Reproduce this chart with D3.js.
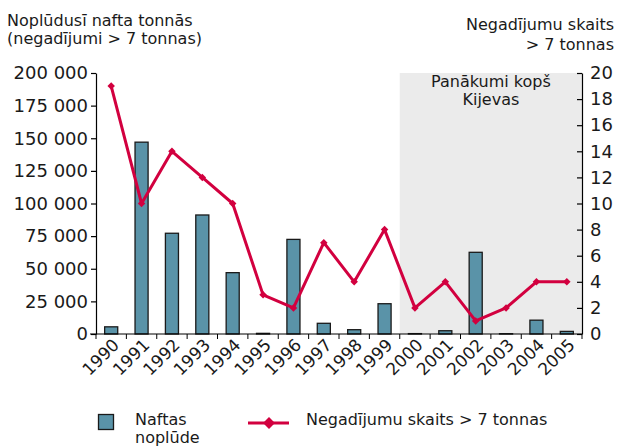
<!DOCTYPE html>
<html>
<head>
<meta charset="utf-8">
<script src="https://cdn.jsdelivr.net/npm/d3@7"></script>
<style>
  body { margin: 0; background: #fff; }
  text { font-family: "DejaVu Sans", Verdana, sans-serif; fill: #1a1a1a; }
</style>
</head>
<body>
<svg width="618" height="446"></svg>
<script>
//chart data
var years = ["1990","1991","1992","1993","1994","1995","1996","1997","1998","1999","2000","2001","2002","2003","2004","2005"];
var spill_tonnes = [5500, 147000, 77200, 91200, 47000, 500, 72500, 8200, 3300, 23200, 300, 2500, 62600, 200, 10600, 2000];
var incidents = [19, 10, 14, 12, 10, 3, 2, 7, 4, 8, 2, 4, 1, 2, 4, 4];
var left_ticks = [0, 25000, 50000, 75000, 100000, 125000, 150000, 175000, 200000];
var right_ticks = [0, 2, 4, 6, 8, 10, 12, 14, 16, 18, 20];

var svg = d3.select("svg");

var plot = {left: 96, right: 582, top: 73, bottom: 334};

var barColour = "#5a93a8";
var lineColour = "#d2003f";

//scales
var x = d3.scaleBand()
    .domain(years)
    .range([plot.left, plot.right])
    .paddingInner(0.57)
    .paddingOuter(0.285);

var xOuter = d3.scaleBand()
    .domain(years)
    .range([plot.left, plot.right]);

var yLeft = d3.scaleLinear()
    .domain([0, 200000])
    .range([plot.bottom, plot.top]);

var yRight = d3.scaleLinear()
    .domain([0, 20])
    .range([plot.bottom, plot.top]);

//grey box for "since Kiev"
svg.append("rect")
    .attr("x", xOuter("2000"))
    .attr("y", plot.top)
    .attr("width", plot.right - xOuter("2000"))
    .attr("height", plot.bottom - plot.top)
    .attr("fill", "#ebebeb");

var boxMid = (xOuter("2000") + plot.right) / 2;
svg.append("text")
    .attr("x", boxMid)
    .attr("y", 87)
    .attr("text-anchor", "middle")
    .style("font-size", "16px")
    .text("Panākumi kopš");
svg.append("text")
    .attr("x", boxMid)
    .attr("y", 105)
    .attr("text-anchor", "middle")
    .style("font-size", "16px")
    .text("Kijevas");

//bars
svg.append("g")
    .selectAll("rect")
    .data(years)
    .enter().append("rect")
    .attr("x", function(d) { return x(d); })
    .attr("width", x.bandwidth())
    .attr("y", function(d, i) { return yLeft(spill_tonnes[i]); })
    .attr("height", function(d, i) { return plot.bottom - yLeft(spill_tonnes[i]); })
    .attr("fill", barColour)
    .attr("stroke", "#1a1a1a")
    .attr("stroke-width", 1.3);

//line for incidents
var line = d3.line()
    .x(function(d, i) { return xOuter(years[i]) + xOuter.bandwidth() / 2; })
    .y(function(d) { return yRight(d); });

svg.append("path")
    .datum(incidents)
    .attr("d", line)
    .attr("fill", "none")
    .attr("stroke", lineColour)
    .attr("stroke-width", 3)
    .attr("stroke-linejoin", "round");

var diamond = d3.symbol().type(d3.symbolDiamond2);

svg.append("g")
    .selectAll("path")
    .data(incidents)
    .enter().append("path")
    .attr("d", diamond.size(36))
    .attr("transform", function(d, i) {
        return "translate(" + (xOuter(years[i]) + xOuter.bandwidth() / 2) + "," + yRight(d) + ")";
    })
    .attr("fill", lineColour);

//axes
var fmt = function(d) { return d3.format(",")(d).replace(/,/g, " "); };

var leftAxis = svg.append("g")
    .attr("transform", "translate(" + plot.left + ",0)")
    .call(d3.axisLeft(yLeft).tickValues(left_ticks).tickFormat(fmt).tickSize(5).tickSizeOuter(0));

var rightAxis = svg.append("g")
    .attr("transform", "translate(" + plot.right + ",0)")
    .call(d3.axisRight(yRight).tickValues(right_ticks).tickSize(-5).tickSizeOuter(0).tickPadding(8));

leftAxis.selectAll("text").style("font-size", "18px");
rightAxis.selectAll("text").style("font-size", "18px");

var bottomAxis = svg.append("g")
    .attr("transform", "translate(0," + plot.bottom + ")")
    .call(d3.axisBottom(xOuter).tickSize(0).tickFormat(""));

bottomAxis.select(".domain").attr("d", "M" + (plot.left - 6) + ",0H" + plot.right);

//ticks between the years
bottomAxis.selectAll(".sep")
    .data(years.concat(["end"]))
    .enter().append("line")
    .attr("x1", function(d, i) { return plot.left + i * xOuter.bandwidth(); })
    .attr("x2", function(d, i) { return plot.left + i * xOuter.bandwidth(); })
    .attr("y1", 0)
    .attr("y2", 5)
    .attr("stroke", "#000");

svg.selectAll(".domain, .tick line").attr("stroke", "#000").attr("stroke-width", 1.2);
svg.selectAll(".tick text").style("fill", "#1a1a1a");

//rotated year labels
svg.append("g")
    .selectAll("text")
    .data(years)
    .enter().append("text")
    .attr("transform", function(d) {
        return "translate(" + (xOuter(d) + xOuter.bandwidth() / 2 + 9) + "," + (plot.bottom + 12) + ") rotate(-45)";
    })
    .attr("text-anchor", "end")
    .style("font-size", "17px")
    .text(function(d) { return d; });

//axis titles
svg.append("text").attr("x", 7).attr("y", 26).style("font-size", "16px").text("Noplūdusī nafta tonnās");
svg.append("text").attr("x", 7).attr("y", 44).style("font-size", "16px").text("(negadījumi > 7 tonnas)");
svg.append("text").attr("x", 614).attr("y", 30).attr("text-anchor", "end").style("font-size", "16px").text("Negadījumu skaits");
svg.append("text").attr("x", 614).attr("y", 50).attr("text-anchor", "end").style("font-size", "16px").text("> 7 tonnas");

//legend
var legend = svg.append("g");
legend.append("rect")
    .attr("x", 98.5).attr("y", 414.5)
    .attr("width", 15).attr("height", 15)
    .attr("fill", barColour)
    .attr("stroke", "#1a1a1a")
    .attr("stroke-width", 1.3);
legend.append("text").attr("x", 135).attr("y", 425).style("font-size", "16px").text("Naftas");
legend.append("text").attr("x", 135).attr("y", 443).style("font-size", "16px").text("noplūde");

legend.append("line")
    .attr("x1", 248).attr("x2", 289)
    .attr("y1", 423).attr("y2", 423)
    .attr("stroke", lineColour)
    .attr("stroke-width", 3);
legend.append("path")
    .attr("d", diamond.size(90))
    .attr("transform", "translate(269,423)")
    .attr("fill", lineColour);
legend.append("text").attr("x", 306).attr("y", 425).style("font-size", "16px").text("Negadījumu skaits > 7 tonnas");
</script>
</body>
</html>
